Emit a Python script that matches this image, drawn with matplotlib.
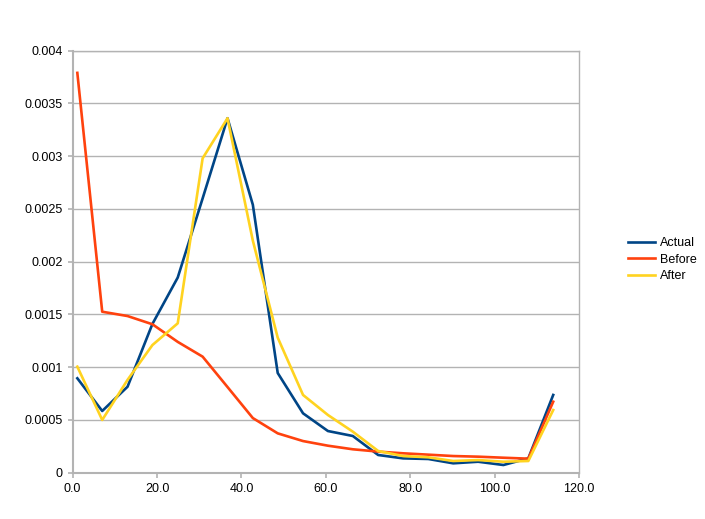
import matplotlib.pyplot as plt

# Data
x_vals = [1.1, 7.0, 13.0, 18.9, 24.9, 30.8, 36.7, 42.7, 48.6, 54.6,
          60.5, 66.4, 72.4, 78.3, 84.3, 90.2, 96.1, 102.1, 108.0, 113.9]
actual = [0.000895, 0.000585, 0.000815, 0.00141, 0.00185, 0.0026, 0.00336, 0.00254, 0.000945, 0.000563,
          0.000395, 0.000348, 0.000168, 0.000136, 0.00013, 0.000089, 0.000104, 0.000073, 0.000136, 0.000737]
before = [0.00379, 0.001526, 0.001485, 0.001407, 0.00124, 0.0011, 0.000812, 0.000518, 0.000373, 0.0003,
          0.000256, 0.000222, 0.0002, 0.000184, 0.000171, 0.000158, 0.000152, 0.000142, 0.000133, 0.000673]
after = [0.001005, 0.0005, 0.00088, 0.00121, 0.001416, 0.00298, 0.00336, 0.0022, 0.00128, 0.000737,
         0.000547, 0.000389, 0.000206, 0.000158, 0.000146, 0.000111, 0.00012, 0.000104, 0.000111, 0.000594]

x_ticks = [0, 20, 40, 60, 80, 100, 120]
x_labels = ['0.0', '20.0', '40.0', '60.0', '80.0', '100.0', '120.0']
y_ticks = [0, 0.0005, 0.001, 0.0015, 0.002, 0.0025, 0.003, 0.0035, 0.004]
y_labels = ['0', '0.0005', '0.001', '0.0015', '0.002', '0.0025', '0.003', '0.0035', '0.004']

plt.rcParams['font.family'] = ['Liberation Sans', 'DejaVu Sans']

fig = plt.figure(figsize=(7.05, 5.19), dpi=100)
ax = fig.add_axes([0.1031, 0.0892, 0.7181, 0.8131])

grey = '#b3b3b3'
ax.plot(x_vals, actual, color='#004586', lw=1.9, label='Actual')
ax.plot(x_vals, before, color='#ff420e', lw=1.9, label='Before')
ax.plot(x_vals, after, color='#ffd320', lw=1.9, label='After')

ax.set_xlim(0, 120)
ax.set_ylim(0, 0.004)
ax.set_xticks(x_ticks)
ax.set_xticklabels(x_labels)
ax.set_yticks(y_ticks)
ax.set_yticklabels(y_labels)
ax.yaxis.grid(True, color=grey, lw=1)
ax.set_axisbelow(True)

for side in ['top', 'right']:
    ax.spines[side].set_color(grey)
    ax.spines[side].set_linewidth(1)
for side in ['left', 'bottom']:
    ax.spines[side].set_color(grey)
    ax.spines[side].set_linewidth(1.5)

ax.tick_params(axis='both', direction='out', length=3.6, width=1.2, color=grey,
               labelsize=9, labelcolor='black', pad=3.5)

# Legend on the right, no frame
ax.legend(loc='center left', bbox_to_anchor=(1.075, 0.505), frameon=False,
          fontsize=9, handlelength=2.15, handletextpad=0.4, labelspacing=0.35)

plt.savefig('out.png', dpi=100)
